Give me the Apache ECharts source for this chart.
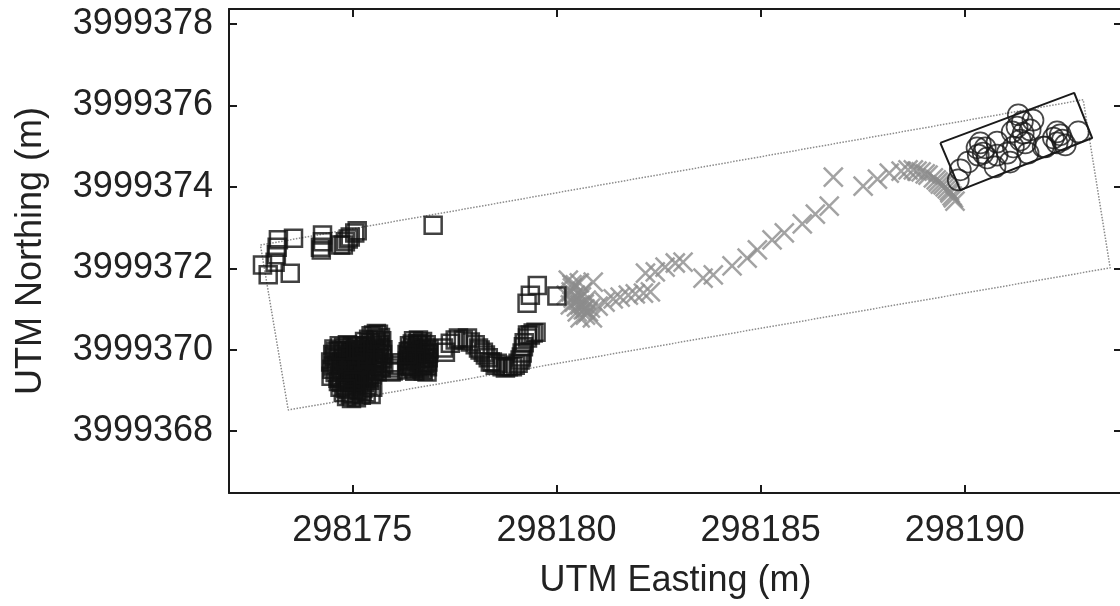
<!DOCTYPE html>
<html>
<head>
<meta charset="utf-8">
<title>UTM track positions</title>
<script src="https://cdn.jsdelivr.net/npm/echarts@6/dist/echarts.min.js"></script>
<style>
  html, body { margin: 0; padding: 0; background: #ffffff; }
  #chart { width: 1120px; height: 606px; }
</style>
</head>
<body>
<div id="chart"></div>
<script>
// Axis ticks (UTM metres)
const eastingTicks = [298175, 298180, 298185, 298190];
const northingTicks = [3999368, 3999370, 3999372, 3999374, 3999376, 3999378];

// Square fixes: north-west group
const squaresNorthwest = [
  [298172.80, 3999372.08], [298172.94, 3999371.84], [298173.48, 3999371.88], [298173.11, 3999372.15],
  [298173.14, 3999372.33], [298173.16, 3999372.52], [298173.19, 3999372.70], [298173.56, 3999372.74],
  [298174.27, 3999372.82], [298174.27, 3999372.65], [298174.22, 3999372.52], [298174.24, 3999372.45],
  [298174.71, 3999372.57], [298174.78, 3999372.57], [298174.83, 3999372.65], [298174.90, 3999372.72],
  [298174.95, 3999372.77], [298175.12, 3999372.92], [298175.06, 3999372.87], [298176.98, 3999373.06],
  [298179.28, 3999371.14], [298179.36, 3999371.34], [298179.53, 3999371.58], [298180.01, 3999371.32]
];

// Square fixes: dense loitering cluster
const squaresCluster = [
  [298174.48, 3999369.35], [298174.50, 3999369.52], [298174.47, 3999369.70], [298174.52, 3999369.88], [298174.55, 3999370.02],
  [298174.58, 3999369.44], [298174.61, 3999369.63], [298174.63, 3999369.79], [298174.66, 3999369.97], [298174.68, 3999370.10],
  [298174.70, 3999369.31], [298174.72, 3999369.55], [298174.74, 3999369.71], [298174.77, 3999369.90], [298174.79, 3999370.06],
  [298174.81, 3999369.40], [298174.84, 3999369.62], [298174.86, 3999369.84], [298174.88, 3999370.12], [298174.90, 3999369.28],
  [298174.93, 3999369.49], [298174.95, 3999369.75], [298174.97, 3999369.96], [298174.99, 3999369.36], [298175.02, 3999369.58],
  [298175.04, 3999369.82], [298175.06, 3999370.04], [298175.08, 3999369.45], [298175.11, 3999369.68], [298175.13, 3999369.92],
  [298175.15, 3999370.10], [298175.17, 3999369.33], [298175.20, 3999369.54], [298175.22, 3999369.77], [298175.24, 3999370.00],
  [298175.27, 3999369.41], [298175.29, 3999369.63], [298175.31, 3999369.86], [298175.33, 3999370.08], [298175.35, 3999369.30],
  [298175.37, 3999369.50], [298175.39, 3999369.72], [298175.42, 3999369.95], [298175.44, 3999370.18], [298175.46, 3999370.34],
  [298175.48, 3999369.38], [298175.50, 3999369.60], [298175.52, 3999369.81], [298175.55, 3999370.03], [298175.57, 3999370.25],
  [298175.59, 3999370.40], [298175.61, 3999369.46], [298175.63, 3999369.67], [298175.65, 3999369.90], [298175.67, 3999370.12],
  [298175.69, 3999370.30], [298175.71, 3999369.55], [298175.73, 3999369.78], [298175.75, 3999370.00], [298175.77, 3999369.65],
  [298175.40, 3999370.26], [298175.52, 3999370.36], [298175.64, 3999370.38], [298175.72, 3999370.22], [298174.60, 3999369.95],
  [298174.75, 3999369.45], [298174.92, 3999369.65], [298175.10, 3999369.85], [298175.26, 3999369.52], [298175.45, 3999369.70],
  [298175.60, 3999369.92], [298175.35, 3999369.98], [298174.85, 3999369.98], [298174.65, 3999369.30], [298175.00, 3999370.10],
  [298175.18, 3999369.62], [298175.53, 3999369.47], [298174.54, 3999369.60], [298175.68, 3999369.58], [298175.30, 3999370.20],
  [298174.57, 3999369.83], [298174.69, 3999369.67], [298174.80, 3999369.78], [298174.91, 3999369.86], [298175.03, 3999369.70],
  [298175.12, 3999369.47], [298175.23, 3999369.88], [298175.34, 3999369.62], [298175.43, 3999369.40], [298175.56, 3999369.74],
  [298175.66, 3999370.05], [298175.49, 3999370.10], [298174.73, 3999369.98], [298174.96, 3999369.56], [298175.08, 3999370.00],
  [298175.28, 3999369.35], [298175.58, 3999370.18], [298175.74, 3999369.88],
  [298175.93, 3999369.55], [298175.97, 3999369.68], [298176.00, 3999369.48], [298176.04, 3999369.62], [298175.95, 3999369.45],
  [298176.33, 3999369.50], [298176.35, 3999369.72], [298176.37, 3999369.95], [298176.40, 3999370.10], [298176.43, 3999369.58],
  [298176.45, 3999369.83], [298176.48, 3999370.05], [298176.50, 3999370.22], [298176.53, 3999369.47], [298176.55, 3999369.70],
  [298176.58, 3999369.92], [298176.60, 3999370.15], [298176.62, 3999370.24], [298176.64, 3999369.55], [298176.67, 3999369.78],
  [298176.69, 3999370.00], [298176.72, 3999370.20], [298176.74, 3999369.48], [298176.76, 3999369.66], [298176.79, 3999369.90],
  [298176.81, 3999370.12], [298176.84, 3999369.58], [298176.86, 3999369.80], [298176.88, 3999370.02], [298176.70, 3999369.62],
  [298176.46, 3999369.64], [298176.57, 3999370.02], [298176.83, 3999369.45], [298176.38, 3999369.85], [298176.77, 3999370.05],
  [298176.52, 3999369.85], [298176.65, 3999369.68], [298176.78, 3999369.78], [298176.42, 3999369.98], [298176.62, 3999370.10],
  [298176.36, 3999369.60], [298176.41, 3999369.76], [298176.49, 3999369.54], [298176.54, 3999369.96], [298176.59, 3999369.60],
  [298176.66, 3999369.89], [298176.71, 3999369.52], [298176.75, 3999369.96], [298176.80, 3999369.62], [298176.85, 3999369.70],
  [298176.87, 3999369.92], [298176.47, 3999370.14], [298176.68, 3999370.14], [298176.56, 3999369.78], [298176.34, 3999369.88],
  [298174.66, 3999369.22], [298174.70, 3999369.08], [298174.74, 3999369.20], [298174.78, 3999368.95], [298174.82, 3999369.12],
  [298174.86, 3999368.85], [298174.90, 3999369.02], [298174.94, 3999369.18], [298174.98, 3999368.80], [298175.02, 3999368.92],
  [298175.06, 3999369.10], [298175.10, 3999368.82], [298175.14, 3999369.00], [298175.18, 3999369.15], [298175.22, 3999368.88],
  [298175.26, 3999369.05], [298175.30, 3999369.20], [298175.34, 3999368.94], [298175.38, 3999369.12], [298175.42, 3999369.25],
  [298175.46, 3999368.90], [298175.50, 3999369.08], [298174.88, 3999369.26], [298175.16, 3999369.24], [298174.95, 3999368.90],
  [298175.02, 3999369.22], [298175.24, 3999368.98], [298174.84, 3999369.05]
];

// Square fixes: winding path east of the cluster
const squaresPath = [
  [298177.23, 3999370.04], [298177.28, 3999369.94], [298177.40, 3999370.16], [298177.52, 3999370.24], [298177.60, 3999370.29],
  [298177.72, 3999370.24], [298177.82, 3999370.29], [298177.89, 3999370.19], [298178.01, 3999370.12], [298178.09, 3999370.04],
  [298178.13, 3999369.99], [298178.21, 3999369.94], [298178.26, 3999369.87], [298178.33, 3999369.80], [298178.38, 3999369.70],
  [298178.43, 3999369.70], [298178.50, 3999369.62], [298178.55, 3999369.67], [298178.67, 3999369.58], [298178.75, 3999369.55],
  [298178.82, 3999369.58], [298178.92, 3999369.58], [298178.99, 3999369.62], [298179.06, 3999369.67], [298179.11, 3999369.75],
  [298179.14, 3999369.82], [298179.16, 3999369.92], [298179.19, 3999370.07], [298179.21, 3999370.17], [298179.29, 3999370.29],
  [298179.29, 3999370.36], [298179.36, 3999370.36], [298179.43, 3999370.41], [298179.50, 3999370.43]
];

// Cross fixes (grey)
const crosses = [
  [298180.29, 3999371.71], [298180.39, 3999371.52], [298180.46, 3999371.34], [298180.53, 3999371.22], [298180.58, 3999371.10],
  [298180.66, 3999370.98], [298180.71, 3999370.85], [298180.51, 3999370.93], [298180.34, 3999371.10], [298180.41, 3999371.27],
  [298180.63, 3999371.42], [298180.73, 3999371.22], [298180.83, 3999371.02], [298180.46, 3999371.59], [298180.24, 3999371.34],
  [298180.88, 3999370.78], [298180.58, 3999370.78], [298180.78, 3999370.93], [298180.36, 3999371.42], [298180.56, 3999371.64],
  [298180.68, 3999371.12], [298180.44, 3999371.17], [298180.61, 3999371.30], [298180.49, 3999371.05], [298180.70, 3999371.00],
  [298180.38, 3999371.60], [298180.90, 3999371.66],
  [298181.02, 3999371.07], [298181.19, 3999371.17], [298181.39, 3999371.25], [298181.56, 3999371.29], [298181.76, 3999371.34],
  [298181.93, 3999371.37], [298182.13, 3999371.39], [298182.30, 3999371.42],
  [298182.18, 3999371.88], [298182.42, 3999371.91], [298182.66, 3999372.03], [298182.91, 3999372.13], [298183.10, 3999372.15],
  [298183.59, 3999371.76], [298183.84, 3999371.84], [298184.30, 3999372.06], [298184.67, 3999372.25], [298184.92, 3999372.45],
  [298185.28, 3999372.70], [298185.58, 3999372.87], [298186.02, 3999373.09], [298186.34, 3999373.33], [298186.68, 3999373.53],
  [298186.78, 3999374.24], [298187.51, 3999374.02], [298187.86, 3999374.19], [298188.15, 3999374.34], [298188.44, 3999374.39],
  [298188.61, 3999374.42], [298188.74, 3999374.42], [298188.83, 3999374.39], [298188.93, 3999374.37], [298189.03, 3999374.32],
  [298189.10, 3999374.29], [298189.23, 3999374.22], [298189.30, 3999374.17], [298189.35, 3999374.12], [298189.40, 3999374.07],
  [298189.47, 3999374.05], [298189.52, 3999374.00], [298189.57, 3999373.95], [298189.62, 3999373.90], [298189.64, 3999373.85],
  [298189.69, 3999373.78], [298189.72, 3999373.73], [298189.76, 3999373.65]
];

// Circle fixes (inside the solid box)
const circles = [
  [298189.84, 3999374.17], [298189.89, 3999374.42], [298190.08, 3999374.61], [298190.30, 3999374.96], [298190.38, 3999375.08],
  [298190.45, 3999374.83], [298190.33, 3999374.78], [298190.50, 3999374.96], [298190.74, 3999374.49], [298190.79, 3999374.78],
  [298190.79, 3999375.10], [298191.11, 3999374.61], [298191.19, 3999374.98], [298191.16, 3999375.35], [298191.28, 3999375.47],
  [298191.41, 3999375.60], [298191.31, 3999375.77], [298191.43, 3999375.32], [298191.48, 3999375.08], [298191.55, 3999374.83],
  [298191.36, 3999375.15], [298191.60, 3999375.40], [298191.97, 3999374.98], [298192.17, 3999375.20], [298192.26, 3999375.35],
  [298192.39, 3999375.15], [298192.34, 3999375.28], [298192.46, 3999375.03], [298192.26, 3999375.08], [298192.78, 3999375.35],
  [298191.67, 3999375.64], [298190.55, 3999374.71], [298191.04, 3999374.83], [298191.92, 3999374.98]
];

// Outline corners (closed rings)
const dottedOutline = [
  [298172.75, 3999372.57], [298192.90, 3999376.14], [298193.56, 3999372.01], [298173.43, 3999368.52], [298172.75, 3999372.57]
];
const solidOutline = [
  [298189.40, 3999375.08], [298192.68, 3999376.31], [298193.12, 3999375.20], [298189.89, 3999373.92], [298189.40, 3999375.08]
];

const FONT = '"Liberation Sans", Arial, Helvetica, sans-serif';
const INK = '#1a1a1a';
const plainNumber = v => String(v);

function boxAxis(extra) {
  return Object.assign({
    type: 'value',
    axisLine: { show: true, onZero: false, lineStyle: { color: INK, width: 2 } },
    splitLine: { show: false },
    axisTick: { show: true, inside: true, length: 8, lineStyle: { color: INK, width: 2 } },
    axisLabel: { show: false }
  }, extra);
}

const chart = echarts.init(document.getElementById('chart'), null, { renderer: 'canvas' });

chart.setOption({
  animation: false,
  backgroundColor: '#ffffff',
  grid: { left: 229, top: 9, width: 893, height: 484, containLabel: false, outerBoundsMode: 'none' },
  xAxis: [
    boxAxis({
      position: 'bottom', min: 298171.98, max: 298193.85,
      axisTick: { show: true, inside: true, length: 8, customValues: eastingTicks, lineStyle: { color: INK, width: 2 } },
      axisLabel: { show: true, customValues: eastingTicks, formatter: plainNumber, fontFamily: FONT, fontSize: 36, color: '#222', margin: 20 },
      name: 'UTM Easting (m)', nameLocation: 'middle', nameGap: 70,
      nameTextStyle: { fontFamily: FONT, fontSize: 36, color: '#222' }
    }),
    boxAxis({
      position: 'top', min: 298171.98, max: 298193.85,
      axisTick: { show: true, inside: true, length: 8, customValues: eastingTicks, lineStyle: { color: INK, width: 2 } }
    })
  ],
  yAxis: [
    boxAxis({
      position: 'left', min: 3999366.48, max: 3999378.37,
      axisTick: { show: true, inside: true, length: 8, customValues: northingTicks, lineStyle: { color: INK, width: 2 } },
      axisLabel: { show: true, customValues: northingTicks, formatter: plainNumber, fontFamily: FONT, fontSize: 36, color: '#222', margin: 16 },
      name: 'UTM Northing (m)', nameLocation: 'middle', nameGap: 180, nameRotate: 90,
      nameTextStyle: { fontFamily: FONT, fontSize: 36, color: '#222' }
    }),
    boxAxis({
      position: 'right', min: 3999366.48, max: 3999378.37,
      axisTick: { show: true, inside: true, length: 8, customValues: northingTicks, lineStyle: { color: INK, width: 2 } }
    })
  ],
  series: [
    {
      type: 'line', data: dottedOutline, symbol: 'none', silent: true,
      lineStyle: { color: '#8a8a8a', width: 1.5, type: [1.5, 1.5] }, z: 1
    },
    {
      type: 'scatter', data: crosses, symbol: 'path://M0,0L20,20M20,0L0,20', symbolSize: 19,
      itemStyle: { color: 'rgba(0,0,0,0)', borderColor: '#8c8c8c', borderWidth: 2.5 }, z: 2
    },
    {
      type: 'scatter', data: squaresNorthwest.concat(squaresCluster, squaresPath), symbol: 'rect', symbolSize: 17,
      itemStyle: { color: 'rgba(0,0,0,0)', borderColor: '#111111', borderWidth: 2.5 }, z: 3
    },
    {
      type: 'scatter', data: circles, symbol: 'circle', symbolSize: 21,
      itemStyle: { color: 'rgba(0,0,0,0)', borderColor: INK, borderWidth: 1.7 }, z: 3
    },
    {
      type: 'line', data: solidOutline, symbol: 'none', silent: true,
      lineStyle: { color: INK, width: 2 }, z: 4
    }
  ]
});
</script>
</body>
</html>
